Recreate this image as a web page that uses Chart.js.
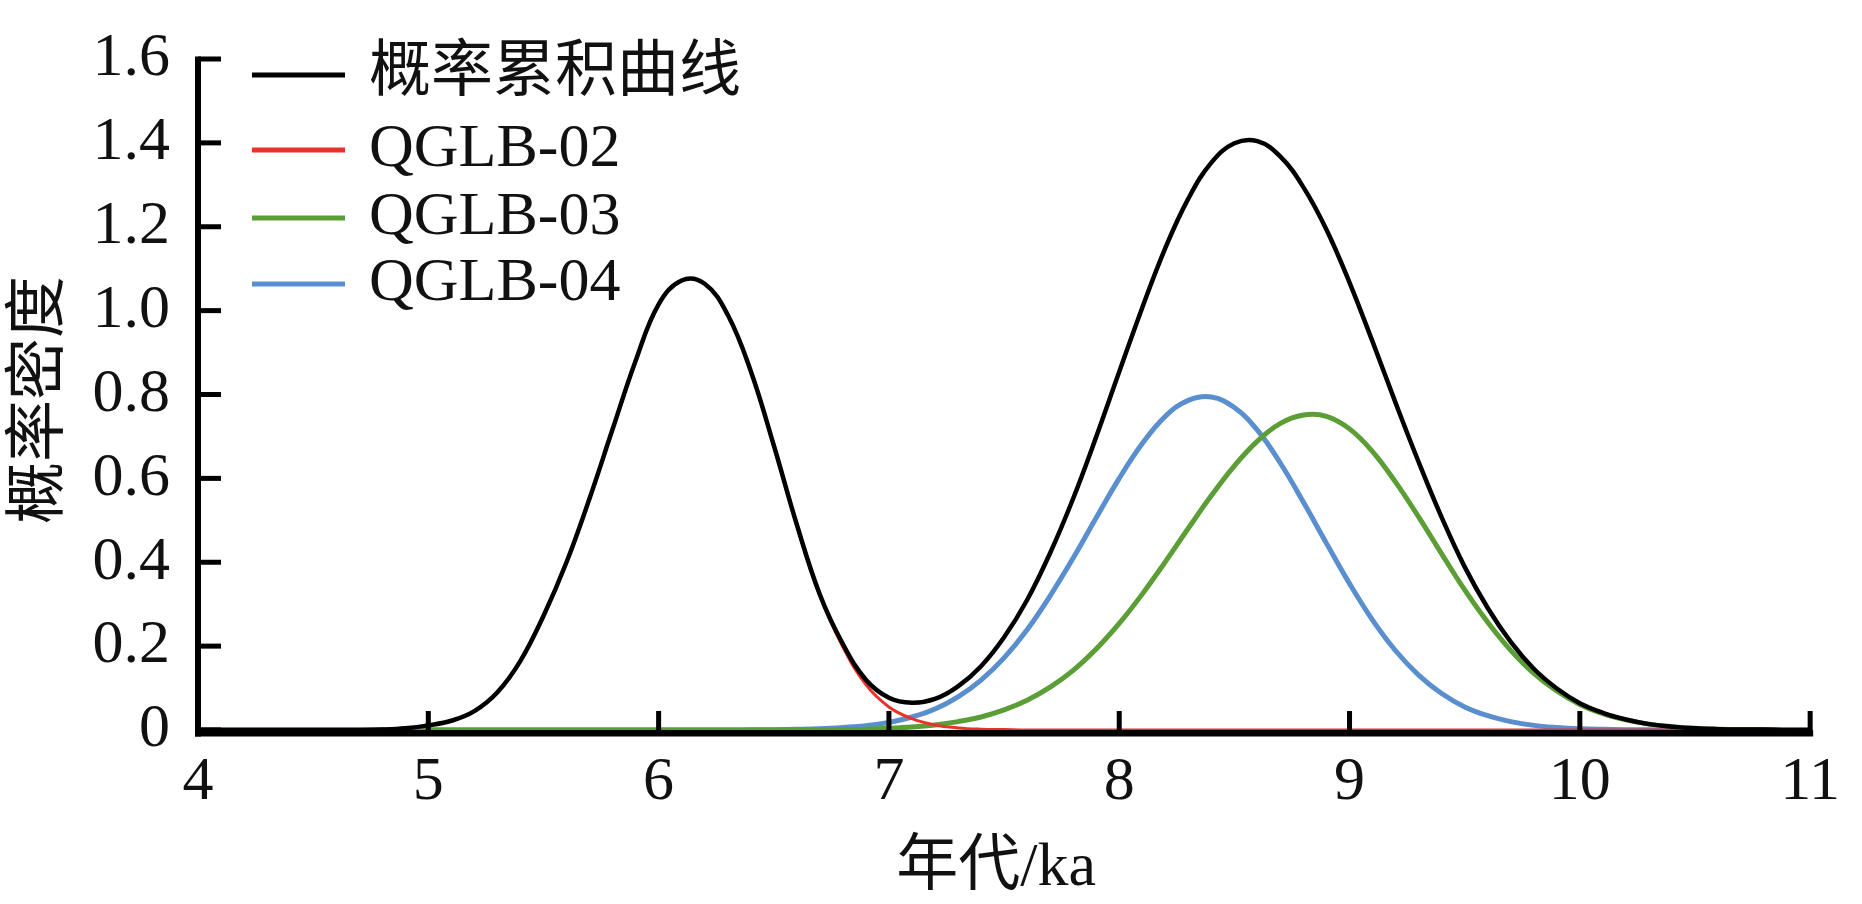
<!DOCTYPE html>
<html>
<head>
<meta charset="utf-8">
<style>
html,body{margin:0;padding:0;background:#ffffff;}
canvas{display:block;}
</style>
<script src="https://cdn.jsdelivr.net/npm/chart.js@4.4.1/dist/chart.umd.min.js"></script>
</head>
<body>
<canvas id="c" width="1862" height="904"></canvas>
<script>
// ---------- data ----------
const xValues = [4.0,4.1,4.2,4.3,4.4,4.5,4.6,4.7,4.8,4.9,
  5.0,5.1,5.2,5.3,5.4,5.5,5.6,5.7,5.8,5.9,
  6.0,6.1,6.2,6.3,6.4,6.5,6.6,6.7,6.8,6.9,
  7.0,7.1,7.2,7.3,7.4,7.5,7.6,7.7,7.8,7.9,
  8.0,8.1,8.2,8.3,8.4,8.5,8.6,8.7,8.8,8.9,
  9.0,9.1,9.2,9.3,9.4,9.5,9.6,9.7,9.8,9.9,
  10.0,10.1,10.2,10.3,10.4,10.5,10.6,10.7,10.8,10.9,11.0];

const seriesNames = ['概率累积曲线','QGLB-02','QGLB-03','QGLB-04'];

const cumulative = [0,0,0,0,0,0,0,0,0.001,0.004,
  0.011,0.022,0.045,0.090,0.165,0.272,0.400,0.552,0.717,0.880,
  1.015,1.072,1.064,0.990,0.856,0.679,0.490,0.323,0.205,0.120,
  0.077,0.065,0.074,0.104,0.152,0.221,0.310,0.422,0.552,0.699,
  0.854,1.007,1.149,1.267,1.353,1.399,1.404,1.367,1.294,1.193,
  1.067,0.926,0.780,0.639,0.507,0.389,0.291,0.210,0.146,0.099,
  0.064,0.041,0.025,0.014,0.008,0.004,0.002,0.001,0.001,0,0];

const qglb02 = [0,0,0,0,0,0,0,0,0.001,0.004,
  0.011,0.022,0.045,0.090,0.165,0.272,0.400,0.552,0.717,0.880,
  1.015,1.072,1.064,0.990,0.856,0.678,0.488,0.320,0.198,0.108,
  0.055,0.027,0.012,0.005,0.002,0.001,0,0,0,0,
  0,0,0,0,0,0,0,0,0,0,
  0,0,0,0,0,0,0,0,0,0,
  0,0,0,0,0,0,0,0,0,0,0];

const qglb03 = [0,0,0,0,0,0,0,0,0,0,
  0,0,0,0,0,0,0,0,0,0,
  0,0,0,0,0,0,0,0,0.001,0.002,
  0.004,0.007,0.012,0.020,0.031,0.048,0.071,0.102,0.142,0.193,
  0.254,0.324,0.401,0.481,0.559,0.630,0.689,0.731,0.751,0.748,
  0.718,0.664,0.591,0.508,0.420,0.334,0.257,0.190,0.135,0.093,
  0.061,0.039,0.024,0.014,0.008,0.004,0.002,0.001,0.001,0,0];

const qglb04 = [0,0,0,0,0,0,0,0,0,0,
  0,0,0,0,0,0,0,0,0,0,
  0,0,0,0,0.0003,0.0007,0.0015,0.003,0.006,0.010,
  0.018,0.031,0.050,0.079,0.119,0.172,0.239,0.320,0.410,0.506,
  0.600,0.683,0.748,0.786,0.794,0.769,0.715,0.636,0.543,0.445,
  0.349,0.262,0.189,0.131,0.087,0.055,0.034,0.020,0.011,0.006,
  0.003,0.0015,0.0007,0.0003,0,0,0,0,0,0,0];

const xTickLabels = ['4','5','6','7','8','9','10','11'];
const yTickLabels = ['0','0.2','0.4','0.6','0.8','1.0','1.2','1.4','1.6'];
const xTitle = '年代/ka';
const yTitle = '概率密度';

// ---------- styling ----------
const SERIF = "'Liberation Serif','Times New Roman','Noto Sans CJK SC',serif";
const TEXT = '#111111';
const colors = ['#000000', '#e8332b', '#5b9e35', '#5a8fcf'];
const widths = [4.5, 3, 5, 5];

function pts(arr){ return xValues.map((x,i)=>({x:x, y:arr[i]})); }
const seriesData = [cumulative, qglb02, qglb03, qglb04];

const decor = {
  id: 'decor',
  afterDraw(chart){
    const ctx = chart.ctx, a = chart.chartArea;
    const xs = chart.scales.x, ys = chart.scales.y;
    ctx.save();
    ctx.fillStyle = '#000';
    // axis lines
    ctx.fillRect(a.left - 3, a.top - 2.5, 6, a.bottom - a.top + 9);
    ctx.fillRect(a.left - 3, a.bottom, a.right - a.left + 6, 6.5);
    // inward ticks
    xs.ticks.forEach(t => {
      const px = xs.getPixelForValue(t.value);
      ctx.fillRect(px - 2.5, a.bottom - 19, 5, 19);
    });
    ys.ticks.forEach(t => {
      const py = ys.getPixelForValue(t.value);
      ctx.fillRect(a.left, py - 2.5, 23, 5);
    });
    // legend
    const rows = [75, 150, 218, 284];
    ctx.font = '62px ' + SERIF;
    ctx.textBaseline = 'middle';
    ctx.textAlign = 'left';
    chart.data.datasets.forEach((ds, i) => {
      const y = rows[i];
      ctx.strokeStyle = ds.borderColor;
      ctx.lineWidth = 5;
      ctx.beginPath(); ctx.moveTo(252, y); ctx.lineTo(345, y); ctx.stroke();
      ctx.fillStyle = TEXT;
      ctx.fillText(ds.label, 369, y);
    });
    // axis titles
    ctx.fillStyle = TEXT;
    ctx.textAlign = 'center';
    ctx.textBaseline = 'middle';
    ctx.fillText(xTitle, (a.left + a.right) / 2 - 8, 869);
    ctx.translate(42, 400);
    ctx.rotate(-Math.PI / 2);
    ctx.fillText(yTitle, 0, 0);
    ctx.restore();
  }
};

new Chart(document.getElementById('c'), {
  type: 'line',
  data: {
    datasets: seriesNames.map((name, i) => ({
      label: name,
      data: pts(seriesData[i]),
      borderColor: colors[i],
      backgroundColor: colors[i],
      borderWidth: widths[i],
      pointRadius: 0,
      fill: false,
      tension: 0.4
    }))
  },
  options: {
    responsive: false,
    devicePixelRatio: 1,
    animation: false,
    events: [],
    layout: { padding: { top: 32, right: 39, left: 0, bottom: 0 } },
    plugins: { legend: { display: false }, tooltip: { enabled: false } },
    scales: {
      x: {
        type: 'linear', min: 4, max: 11,
        grid: { display: false, drawTicks: false },
        border: { display: false },
        ticks: {
          stepSize: 1, autoSkip: false, maxRotation: 0, padding: 22,
          color: TEXT, font: { family: SERIF, size: 62, lineHeight: 1 },
          callback: (v, i) => xTickLabels[i]
        },
        afterFit: s => { s.height = 904 - 730; }
      },
      y: {
        type: 'linear', min: 0, max: 1.6,
        grid: { display: false, drawTicks: false },
        border: { display: false },
        ticks: {
          stepSize: 0.2, autoSkip: false, padding: 28,
          color: TEXT, font: { family: SERIF, size: 62, lineHeight: 1 },
          callback: (v, i) => yTickLabels[i]
        },
        afterFit: s => { s.width = 198; }
      }
    }
  },
  plugins: [decor]
});
</script>
</body>
</html>
